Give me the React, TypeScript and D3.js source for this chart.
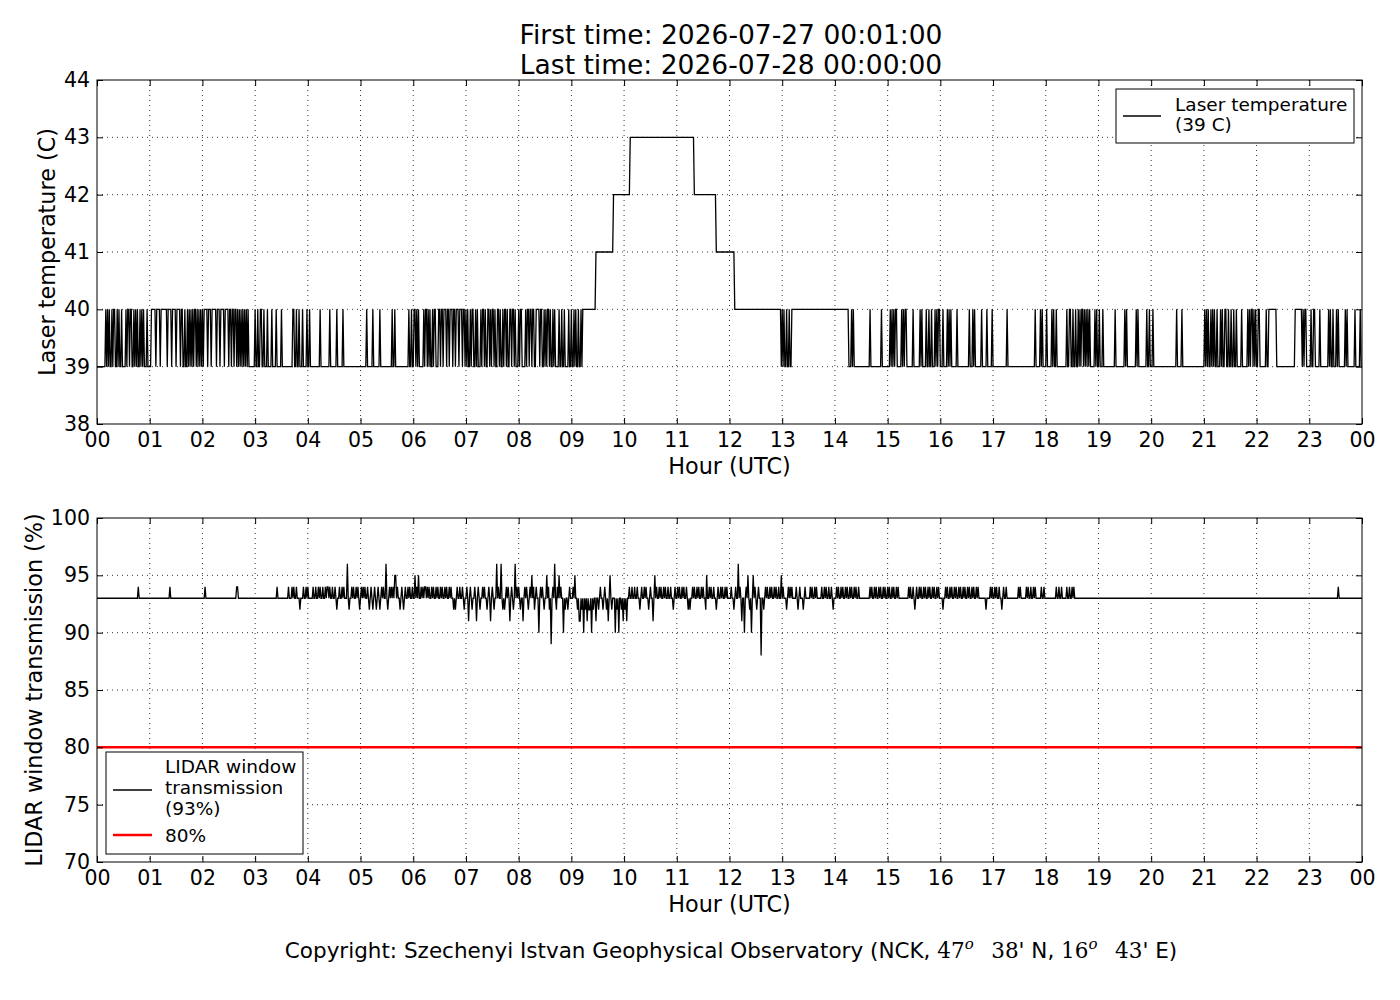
import { useEffect, useRef } from 'react';
import * as d3 from 'd3';

// times are minutes after 00:00 UTC
const titleLines = ['First time: 2026-07-27 00:01:00', 'Last time: 2026-07-28 00:00:00'];

const laserBase = 39;
// runs where the laser sat at 40 C
const laserHigh: [number, number][] = [
  [10, 11], [12, 13], [14, 15], [17, 18], [19, 21], [23, 24], [25, 26], [28, 29], [33, 34], [35, 37], [38, 40],
  [42, 43], [44, 45], [46, 47], [49, 50], [51, 52], [53, 54], [57, 58],
  [62, 67], [68, 72], [73, 80], [81, 85], [86, 90], [91, 95], [96, 98], [100, 101], [103, 104], [105, 106],
  [107, 108], [109, 110], [111, 113], [114, 115], [116, 117], [118, 119], [120, 121],
  [122, 126], [127, 130], [131, 136], [137, 140], [141, 145], [146, 150], [151, 153], [154, 156], [157, 159],
  [160, 161], [162, 163], [164, 165], [166, 167], [168, 169], [170, 171], [172, 173],
  [180, 181], [183, 184], [186, 188], [190, 191], [194, 195], [199, 200], [204, 205], [210, 211], [223, 225],
  [227, 228], [230, 231], [234, 235], [239, 240], [242, 243], [254, 255], [265, 266], [273, 274], [280, 281],
  [307, 308], [314, 315], [322, 323], [336, 337], [339, 340], [355, 356], [358, 359], [361, 363],
  [364, 365], [366, 367], [372, 373], [374, 376], [377, 378], [379, 380], [382, 383], [384, 386], [389, 391],
  [392, 394], [395, 398], [399, 401], [402, 405], [406, 408], [409, 412], [413, 416], [417, 419], [420, 421],
  [422, 423], [425, 426], [427, 429], [431, 432], [433, 434], [437, 438], [439, 441], [442, 443], [445, 447],
  [448, 449], [450, 452], [453, 454], [456, 458], [459, 460], [462, 463], [464, 466], [467, 468], [470, 472],
  [473, 475], [476, 477], [480, 481], [482, 484], [488, 489], [490, 492], [493, 495], [496, 498], [500, 504],
  [505, 507], [509, 510], [511, 512], [513, 515], [516, 517], [519, 520], [521, 522], [526, 527], [529, 530],
  [532, 533], [537, 538], [540, 541], [543, 544], [545, 546], [548, 549], [551, 552],
  [780, 781], [782, 783], [785, 786], [788, 789],
  [859, 860], [861, 862], [880, 881], [893, 894], [903, 904], [905, 906], [907, 908], [909, 911], [916, 917],
  [918, 919], [920, 922], [929, 930], [937, 938], [939, 940], [944, 945], [947, 948], [950, 951], [954, 955],
  [956, 957], [958, 960], [963, 964], [968, 969], [970, 971], [972, 973], [979, 980], [993, 994], [997, 998],
  [999, 1000], [1007, 1008], [1013, 1014], [1019, 1020], [1036, 1037], [1068, 1069], [1074, 1075], [1076, 1077],
  [1081, 1082], [1087, 1088], [1089, 1090], [1092, 1093], [1104, 1105], [1107, 1109], [1111, 1112], [1114, 1115],
  [1117, 1118], [1119, 1120], [1121, 1123], [1124, 1125], [1126, 1127], [1128, 1129], [1130, 1131], [1136, 1137],
  [1138, 1139], [1141, 1142], [1145, 1146], [1159, 1160], [1170, 1171], [1172, 1173], [1183, 1184], [1185, 1186],
  [1195, 1196], [1198, 1199], [1202, 1203], [1229, 1230], [1235, 1236], [1261, 1262], [1263, 1264], [1265, 1266],
  [1268, 1269], [1270, 1271], [1272, 1273], [1275, 1276], [1279, 1280], [1281, 1282], [1284, 1286], [1288, 1289],
  [1291, 1292], [1294, 1295], [1297, 1298], [1303, 1304], [1310, 1311], [1312, 1313], [1314, 1316], [1317, 1318],
  [1319, 1320], [1322, 1324], [1331, 1332], [1334, 1343], [1364, 1372], [1373, 1374], [1375, 1377], [1382, 1383],
  [1385, 1387], [1392, 1393], [1402, 1403], [1404, 1405], [1407, 1408], [1411, 1412], [1413, 1414], [1421, 1422],
  [1423, 1424], [1432, 1433], [1438, 1439],
];
// warm period around midday
const laserWarm: [number, number, number][] = [
  [553, 568, 40], [568, 588, 41], [588, 607, 42], [607, 680, 43], [680, 705, 42], [705, 726, 41], [726, 779, 40],
  [791, 856, 40],
];

const lidarBase = 93;
const lidarRuns: [number, number, number][] = [
  [47, 48, 94], [83, 84, 94], [123, 124, 94], [159, 161, 94], [205, 206, 94],
  [218, 219, 94], [222, 223, 94], [224, 225, 94], [227, 228, 94], [231, 232, 92], [235, 236, 94], [238, 239, 94],
  [240, 241, 94], [246, 247, 94], [249, 250, 94], [252, 253, 94], [254, 255, 94], [257, 258, 94], [260, 261, 94],
  [262, 264, 94], [265, 266, 94], [268, 269, 94], [271, 272, 94], [273, 274, 92], [276, 277, 94], [279, 280, 94],
  [281, 282, 94], [285, 286, 96], [287, 288, 92], [290, 291, 94], [292, 293, 94], [295, 296, 94], [297, 298, 94],
  [299, 300, 92], [301, 302, 94], [303, 304, 94], [305, 306, 94], [308, 309, 94], [310, 311, 92], [312, 313, 94],
  [314, 315, 92], [316, 317, 94], [318, 319, 92], [320, 321, 94], [322, 323, 92], [324, 325, 94], [326, 327, 94],
  [329, 330, 96], [331, 332, 92], [333, 334, 94], [335, 336, 94], [337, 338, 94], [339, 341, 95], [342, 343, 94],
  [345, 346, 92], [347, 348, 94], [349, 350, 92], [351, 352, 94], [354, 355, 94], [356, 357, 94], [359, 360, 94],
  [362, 363, 95], [364, 365, 94], [366, 367, 95], [369, 370, 94], [371, 372, 94], [373, 375, 94], [376, 377, 94],
  [378, 379, 94], [381, 382, 94], [383, 384, 94], [386, 387, 94], [388, 389, 94], [391, 392, 94], [393, 394, 94],
  [396, 397, 94], [398, 399, 94], [401, 402, 94], [403, 404, 94], [406, 407, 92], [408, 409, 92], [410, 411, 94],
  [413, 414, 94], [416, 417, 94], [418, 419, 92], [421, 422, 94], [423, 424, 91], [425, 426, 94], [427, 428, 92],
  [430, 431, 94], [432, 433, 91], [434, 435, 94], [436, 437, 92], [439, 440, 94], [441, 442, 94], [444, 445, 92],
  [446, 447, 94], [448, 449, 91],
  [450, 451, 94], [452, 453, 92], [455, 456, 96], [457, 458, 94], [460, 461, 96], [462, 463, 92], [464, 465, 92],
  [466, 467, 94], [468, 469, 94], [470, 471, 91], [472, 473, 94], [474, 475, 92], [476, 477, 96], [478, 479, 94],
  [480, 481, 94], [482, 483, 92], [485, 486, 91], [487, 488, 94], [489, 490, 94], [491, 492, 92], [493, 494, 94],
  [495, 496, 95], [497, 498, 94], [498, 499, 92], [500, 501, 94], [503, 504, 90], [505, 506, 94], [507, 508, 94],
  [509, 510, 92], [512, 513, 95], [514, 515, 94], [515, 516, 92], [517, 518, 89], [519, 520, 94], [521, 522, 96],
  [523, 524, 92], [524, 525, 94], [526, 527, 95], [528, 529, 94], [531, 532, 90], [533, 534, 92],
  [536, 537, 92], [538, 539, 94], [542, 543, 94], [544, 545, 95], [547, 548, 92], [549, 551, 91], [552, 553, 92],
  [554, 555, 90], [556, 557, 92], [558, 559, 91], [560, 562, 92], [563, 564, 90], [565, 566, 92], [568, 569, 91],
  [571, 572, 92], [573, 574, 94], [576, 577, 92], [578, 579, 94], [580, 581, 92], [582, 583, 91], [584, 585, 95],
  [586, 587, 92], [590, 591, 90], [592, 593, 92], [594, 595, 90], [597, 598, 92], [599, 600, 91], [601, 602, 92],
  [603, 604, 91],
  [606, 607, 94], [609, 610, 94], [612, 613, 94], [615, 616, 94], [618, 619, 92], [620, 621, 94], [623, 624, 94],
  [625, 626, 94], [628, 629, 92], [630, 631, 94], [633, 634, 91], [635, 636, 95], [637, 638, 94], [640, 641, 94],
  [642, 643, 94], [645, 646, 94], [647, 648, 94], [650, 651, 94], [653, 654, 94], [656, 657, 92], [658, 659, 94],
  [661, 662, 94], [663, 664, 94], [666, 667, 94], [668, 669, 94], [671, 672, 94], [673, 674, 92], [675, 676, 92],
  [678, 679, 94], [680, 681, 94], [683, 684, 94], [685, 686, 94], [688, 689, 94], [690, 691, 94], [693, 694, 92],
  [694, 695, 95], [697, 698, 94], [699, 700, 94], [702, 703, 94], [705, 706, 92], [707, 708, 94], [710, 711, 94],
  [712, 713, 94], [715, 716, 94], [717, 718, 94],
  [722, 723, 94], [725, 726, 92], [727, 728, 94], [730, 731, 96], [732, 733, 94], [734, 735, 91], [737, 738, 90],
  [739, 740, 94], [741, 742, 95], [743, 744, 92], [745, 746, 90], [747, 748, 95], [749, 750, 94], [751, 752, 92],
  [753, 754, 94], [756, 757, 88], [759, 760, 92], [761, 762, 94], [763, 764, 94], [766, 767, 94], [768, 769, 94],
  [771, 772, 94], [773, 774, 94], [776, 777, 94], [779, 780, 95], [781, 782, 94],
  [785, 786, 92], [787, 788, 94], [789, 790, 94], [791, 792, 94], [796, 797, 94], [798, 799, 92], [800, 801, 94],
  [804, 805, 92], [806, 807, 94], [812, 813, 94], [814, 815, 94], [817, 818, 94], [819, 820, 94], [825, 826, 94],
  [828, 829, 94], [830, 831, 94], [833, 834, 94], [836, 837, 94], [838, 839, 92], [842, 843, 94], [844, 845, 94],
  [847, 848, 94], [849, 850, 94], [852, 853, 94], [854, 855, 94], [857, 858, 94], [859, 860, 94], [862, 863, 94],
  [864, 865, 94], [867, 868, 94], [880, 881, 94], [882, 883, 94], [885, 886, 94], [887, 888, 94], [890, 891, 94],
  [892, 893, 94], [895, 896, 94], [897, 898, 94], [900, 901, 94], [902, 903, 94], [905, 906, 94], [907, 908, 94],
  [910, 911, 94], [912, 913, 94], [924, 925, 94], [926, 927, 94], [929, 930, 94], [931, 932, 92], [933, 934, 94],
  [936, 937, 94], [938, 939, 94], [941, 942, 94], [943, 944, 94], [946, 947, 94], [948, 949, 94], [951, 952, 94],
  [953, 954, 94], [956, 957, 94], [958, 959, 94], [963, 964, 92], [966, 967, 94], [968, 969, 94], [971, 972, 94],
  [973, 974, 94], [976, 977, 94], [978, 979, 94], [981, 982, 94], [983, 984, 94], [986, 987, 94], [988, 989, 94],
  [991, 992, 94], [993, 994, 94], [996, 997, 94], [998, 999, 94], [1001, 1002, 94], [1003, 1004, 94],
  [1012, 1013, 92], [1017, 1018, 94], [1019, 1020, 94], [1022, 1023, 94], [1024, 1025, 94], [1027, 1028, 94],
  [1030, 1031, 92], [1032, 1033, 94], [1035, 1036, 94], [1049, 1050, 94], [1051, 1052, 94], [1058, 1059, 94],
  [1060, 1061, 94], [1063, 1064, 94], [1066, 1067, 94], [1068, 1069, 94], [1075, 1076, 94], [1078, 1079, 94],
  [1092, 1093, 94], [1095, 1096, 94], [1098, 1099, 94], [1104, 1105, 94], [1107, 1108, 94], [1110, 1111, 94],
  [1112, 1113, 94], [1413, 1414, 94],
];
const lidarThreshold = 80;

const hourTicks = d3.range(0, 1441, 60);
const laserTicks = [38, 39, 40, 41, 42, 43, 44];
const lidarTicks = [70, 75, 80, 85, 90, 95, 100];

const FONT = '"DejaVu Sans", sans-serif';
const SERIF = '"DejaVu Serif", serif';

// runs -> minute samples joined by straight segments (like the sampled original)
function toPoints(runs: [number, number, number][], base: number): [number, number][] {
  const sorted = [...runs].sort((a, b) => a[0] - b[0]);
  const pts: [number, number][] = [[0, base]];
  let prevEnd = 0;
  sorted.forEach(([s, e, v], i) => {
    if (i > 0 && s > prevEnd) pts.push([prevEnd, base]);
    if (s - 1 > prevEnd) pts.push([s - 1, base]);
    pts.push([s, v]);
    if (e - 1 > s) pts.push([e - 1, v]);
    prevEnd = e;
  });
  pts.push([prevEnd, base]);
  pts.push([1440, base]);
  return pts;
}

export default function App() {
  const svgRef = useRef<SVGSVGElement>(null);

  useEffect(() => {
    if (!svgRef.current) return;
    const svg = d3.select(svgRef.current);
    svg.selectAll('*').remove();

    const left = 97, right = 1362;
    const x = d3.scaleLinear().domain([0, 1440]).range([left, right]);
    const hourFmt = (d: d3.NumberValue) => String((+d / 60) % 24).padStart(2, '0');

    svg.append('rect').attr('width', 1400).attr('height', 1000).attr('fill', '#fff');

    // Title
    titleLines.forEach((t, i) => {
      svg.append('text')
        .attr('x', 731).attr('y', 44 + i * 30)
        .attr('text-anchor', 'middle')
        .style('font-family', FONT).style('font-size', '26.5px')
        .text(t);
    });

    function panel(top: number, bottom: number, domain: [number, number], ticks: number[], ylabel: string, labelX: number) {
      const y = d3.scaleLinear().domain(domain).range([bottom, top]);
      const g = svg.append('g');

      // grid
      g.selectAll('line.gx').data(hourTicks.slice(1, -1)).enter().append('line')
        .attr('x1', d => x(d)).attr('x2', d => x(d)).attr('y1', top).attr('y2', bottom)
        .attr('stroke', '#000').attr('stroke-width', 0.8).attr('stroke-dasharray', '1,4');
      g.selectAll('line.gy').data(ticks.slice(1, -1)).enter().append('line')
        .attr('x1', left).attr('x2', right).attr('y1', d => y(d)).attr('y2', d => y(d))
        .attr('stroke', '#000').attr('stroke-width', 0.8).attr('stroke-dasharray', '1,4');

      const axes = svg.append('g');
      axes.append('g').attr('transform', `translate(0,${bottom})`)
        .call(d3.axisBottom(x).tickValues(hourTicks).tickFormat(hourFmt).tickSize(-6).tickSizeOuter(0).tickPadding(8));
      axes.append('g').attr('transform', `translate(0,${top})`)
        .call(d3.axisTop(x).tickValues(hourTicks).tickFormat(() => '').tickSize(-6).tickSizeOuter(0));
      axes.append('g').attr('transform', `translate(${left},0)`)
        .call(d3.axisLeft(y).tickValues(ticks).tickFormat(d3.format('d')).tickSize(-6).tickSizeOuter(0).tickPadding(7));
      axes.append('g').attr('transform', `translate(${right},0)`)
        .call(d3.axisRight(y).tickValues(ticks).tickFormat(() => '').tickSize(-6).tickSizeOuter(0));
      axes.selectAll('.domain').attr('stroke', 'none');
      axes.selectAll('.tick line').attr('stroke', '#000').attr('stroke-width', 1);
      axes.selectAll('text').style('font-family', FONT).style('font-size', '20.5px').attr('fill', '#000');

      svg.append('text')
        .attr('x', (left + right) / 2).attr('y', bottom + 50)
        .attr('text-anchor', 'middle')
        .style('font-family', FONT).style('font-size', '22.3px')
        .text('Hour (UTC)');
      svg.append('text')
        .attr('transform', `translate(${labelX},${(top + bottom) / 2}) rotate(-90)`)
        .attr('text-anchor', 'middle')
        .style('font-family', FONT).style('font-size', '22.3px')
        .text(ylabel);
      return { y, g };
    }

    const line = (yy: d3.ScaleLinear<number, number>) =>
      d3.line<[number, number]>().x(d => x(d[0])).y(d => yy(d[1]));

    // Top panel: laser temperature
    const top = panel(80, 424, [38, 44], laserTicks, 'Laser temperature (C)', 55);
    const laserRuns: [number, number, number][] = [...laserHigh.map(([s, e]) => [s, e, 40] as [number, number, number]), ...laserWarm];
    top.g.append('path')
      .datum(toPoints(laserRuns, laserBase))
      .attr('d', line(top.y))
      .attr('fill', 'none').attr('stroke', '#000').attr('stroke-width', 1.3);
    svg.append('rect').attr('x', left).attr('y', 80).attr('width', right - left).attr('height', 344)
      .attr('fill', 'none').attr('stroke', '#000').attr('stroke-width', 1);

    // legend
    const lg1 = svg.append('g').attr('transform', 'translate(1116,89)');
    lg1.append('rect').attr('width', 238).attr('height', 54).attr('fill', '#fff').attr('stroke', '#000');
    lg1.append('line').attr('x1', 7).attr('x2', 45).attr('y1', 27).attr('y2', 27).attr('stroke', '#000').attr('stroke-width', 1.3);
    ['Laser temperature', '(39 C)'].forEach((t, i) => {
      lg1.append('text').attr('x', 59).attr('y', 22 + i * 20)
        .style('font-family', FONT).style('font-size', '18.5px').text(t);
    });

    // Bottom panel: LIDAR window
    const bot = panel(518, 862, [70, 100], lidarTicks, 'LIDAR window transmission (%)', 42);
    bot.g.append('path')
      .datum(toPoints(lidarRuns, lidarBase))
      .attr('d', line(bot.y))
      .attr('fill', 'none').attr('stroke', '#000').attr('stroke-width', 1.3);
    bot.g.append('line')
      .attr('x1', left).attr('x2', right)
      .attr('y1', bot.y(lidarThreshold)).attr('y2', bot.y(lidarThreshold))
      .attr('stroke', '#ff0000').attr('stroke-width', 2.5);
    svg.append('rect').attr('x', left).attr('y', 518).attr('width', right - left).attr('height', 344)
      .attr('fill', 'none').attr('stroke', '#000').attr('stroke-width', 1);

    const lg2 = svg.append('g').attr('transform', 'translate(106,752)');
    lg2.append('rect').attr('width', 197).attr('height', 102).attr('fill', '#fff').attr('stroke', '#000');
    lg2.append('line').attr('x1', 7).attr('x2', 46).attr('y1', 38).attr('y2', 38).attr('stroke', '#000').attr('stroke-width', 1.3);
    ['LIDAR window', 'transmission', '(93%)'].forEach((t, i) => {
      lg2.append('text').attr('x', 59).attr('y', 21 + i * 21)
        .style('font-family', FONT).style('font-size', '18.5px').text(t);
    });
    lg2.append('line').attr('x1', 7).attr('x2', 46).attr('y1', 83).attr('y2', 83).attr('stroke', '#ff0000').attr('stroke-width', 2.5);
    lg2.append('text').attr('x', 59).attr('y', 90)
      .style('font-family', FONT).style('font-size', '18.5px').text('80%');

    // Copyright footer
    const ft = svg.append('text')
      .attr('x', 731).attr('y', 958).attr('text-anchor', 'middle')
      .style('font-family', FONT).style('font-size', '21.5px');
    ft.append('tspan').text('Copyright: Szechenyi Istvan Geophysical Observatory (NCK, ');
    ft.append('tspan').style('font-family', SERIF).text('47');
    ft.append('tspan').style('font-family', SERIF).style('font-style', 'italic').style('font-size', '15px').attr('dy', -9).text('o');
    ft.append('tspan').style('font-family', SERIF).attr('dy', 9).text('\u2002 38');
    ft.append('tspan').text("' N, ");
    ft.append('tspan').style('font-family', SERIF).text('16');
    ft.append('tspan').style('font-family', SERIF).style('font-style', 'italic').style('font-size', '15px').attr('dy', -9).text('o');
    ft.append('tspan').style('font-family', SERIF).attr('dy', 9).text('\u2002 43');
    ft.append('tspan').text("' E)");
  }, []);

  return (
    <svg
      ref={svgRef}
      width={1400}
      height={1000}
      style={{ position: 'absolute', left: 0, top: 0, display: 'block' }}
    />
  );
}
